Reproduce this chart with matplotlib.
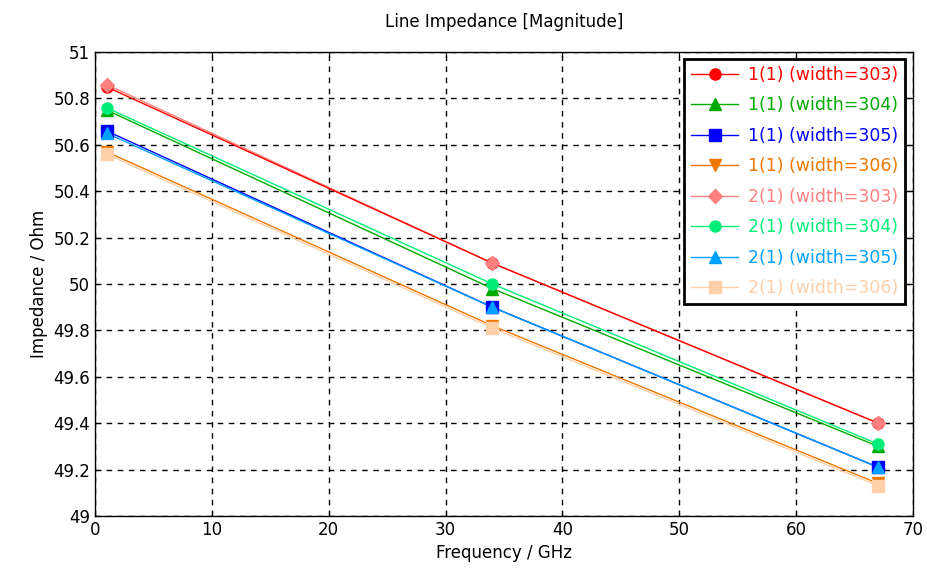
import numpy as np
import matplotlib.pyplot as plt
from matplotlib.lines import Line2D

freq = [1, 34, 67]

labels = ["1(1) (width=303)", "1(1) (width=304)", "1(1) (width=305)", "1(1) (width=306)",
          "2(1) (width=303)", "2(1) (width=304)", "2(1) (width=305)", "2(1) (width=306)"]

z_1_303 = [50.85, 50.09, 49.40]
z_1_304 = [50.75, 49.98, 49.30]
z_1_305 = [50.66, 49.90, 49.21]
z_1_306 = [50.57, 49.82, 49.14]
z_2_303 = [50.86, 50.09, 49.40]
z_2_304 = [50.76, 50.00, 49.31]
z_2_305 = [50.65, 49.90, 49.21]
z_2_306 = [50.56, 49.81, 49.13]

series = [z_1_303, z_1_304, z_1_305, z_1_306, z_2_303, z_2_304, z_2_305, z_2_306]
colors = ["#ff0000", "#00aa00", "#0000ff", "#ee7700",
          "#ff8080", "#00ee77", "#00a0ff", "#ffd0a8"]
markers = ["o", "^", "s", "v", "D", "o", "^", "s"]
msizes = [8, 8, 8, 8, 7, 8, 8, 8]
line_z = [2.4, 2.2, 2.1, 2.4, 2.3, 2.3, 2.2, 2.0]

fig = plt.figure(figsize=(9.27, 5.79), dpi=100)
ax = fig.add_axes([0.1025, 0.109, 0.8825, 0.801])

handles = []
for i, (y, c, m, ms, lab) in enumerate(zip(series, colors, markers, msizes, labels)):
    ax.plot(freq, y, color=c, linewidth=1.0, zorder=line_z[i])
    ax.plot(freq, y, color=c, marker=m, markersize=ms, linestyle="none", zorder=3 + i * 0.1)
    handles.append(Line2D([], [], color=c, marker=m, markersize=ms, linewidth=1.0, label=lab))

ax.set_xlim(0, 70)
ax.set_ylim(49, 51)
ax.set_xticks(np.arange(0, 71, 10))
ax.set_yticks(np.arange(49, 51.01, 0.2))
ax.set_yticklabels(["49", "49.2", "49.4", "49.6", "49.8", "50",
                    "50.2", "50.4", "50.6", "50.8", "51"])
ax.grid(True, color="black", linestyle=(0, (4, 4)), linewidth=1.0)
ax.tick_params(direction="in", top=True, right=True, labelsize=12, length=4)

for s in ax.spines.values():
    s.set_linewidth(1.0)

ax.set_title("Line Impedance [Magnitude]", fontsize=12, pad=18)
ax.set_xlabel("Frequency / GHz", fontsize=12)
ax.set_ylabel("Impedance / Ohm", fontsize=12)

leg = ax.legend(handles=handles, loc="upper right", fontsize=12.5, fancybox=False,
                framealpha=1, edgecolor="black", bbox_to_anchor=(905 / 927, 1 - 59 / 579),
                bbox_transform=fig.transFigure, borderaxespad=0.0,
                handlelength=2.7, handletextpad=0.55, labelspacing=0.72)
leg.get_frame().set_linewidth(2.0)
leg.set_zorder(10)
for txt, c in zip(leg.get_texts(), colors):
    txt.set_color(c)

plt.savefig("out.png", dpi=100)
